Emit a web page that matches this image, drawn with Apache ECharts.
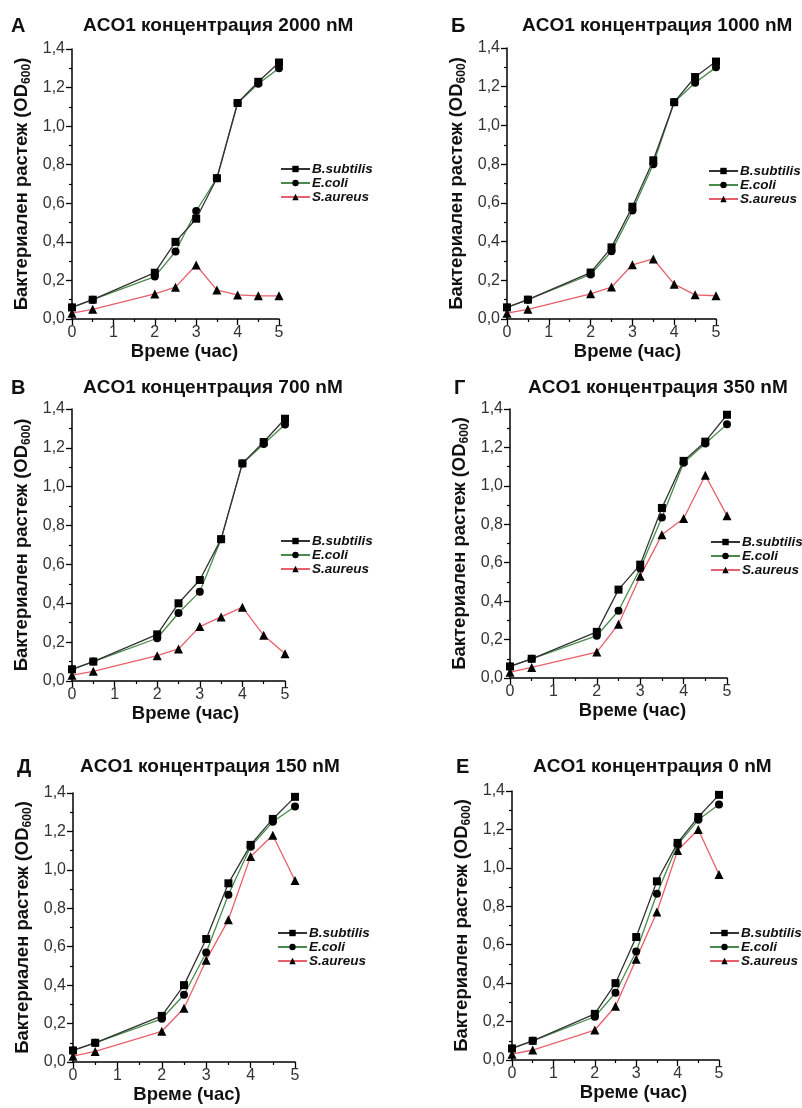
<!DOCTYPE html>
<html>
<head>
<meta charset="utf-8">
<script src="https://cdn.jsdelivr.net/npm/echarts@6/dist/echarts.min.js"></script>
<style>
  html, body { margin: 0; padding: 0; background: #fff; }
  #growth { width: 802px; height: 1108px; }
</style>
</head>
<body>
<div id="growth"></div>
<script>
// time points (hours)
const hours = [0, 0.5, 2, 2.5, 3, 3.5, 4, 4.5, 5];
const speciesNames = ['B.subtilis', 'E.coli', 'S.aureus'];
const panelLetters = ['А', 'Б', 'В', 'Г', 'Д', 'Е'];
const panelTitles = [
  'ACO1 концентрация 2000 nM',
  'ACO1 концентрация 1000 nM',
  'ACO1 концентрация 700 nM',
  'ACO1 концентрация 350 nM',
  'ACO1 концентрация 150 nM',
  'ACO1 концентрация 0 nM'
];

// OD600 per concentration
const bSub2000 = [0.06, 0.10, 0.24, 0.40, 0.52, 0.73, 1.12, 1.23, 1.33];
const eColi2000 = [0.06, 0.10, 0.22, 0.35, 0.56, 0.73, 1.12, 1.22, 1.30];
const sAur2000 = [0.03, 0.05, 0.13, 0.165, 0.28, 0.15, 0.125, 0.12, 0.12];

const bSub1000 = [0.06, 0.10, 0.24, 0.37, 0.58, 0.82, 1.12, 1.25, 1.33];
const eColi1000 = [0.06, 0.10, 0.23, 0.35, 0.56, 0.80, 1.12, 1.22, 1.30];
const sAur1000 = [0.03, 0.05, 0.13, 0.165, 0.28, 0.31, 0.18, 0.125, 0.12];

const bSub700 = [0.06, 0.10, 0.24, 0.40, 0.52, 0.73, 1.12, 1.23, 1.35];
const eColi700 = [0.06, 0.10, 0.22, 0.35, 0.46, 0.73, 1.12, 1.22, 1.32];
const sAur700 = [0.03, 0.05, 0.13, 0.165, 0.28, 0.33, 0.38, 0.235, 0.14];

const bSub350 = [0.06, 0.10, 0.24, 0.46, 0.59, 0.885, 1.13, 1.23, 1.37];
const eColi350 = [0.06, 0.10, 0.22, 0.35, 0.57, 0.835, 1.12, 1.22, 1.32];
const sAur350 = [0.03, 0.055, 0.135, 0.28, 0.53, 0.745, 0.83, 1.055, 0.845];

const bSub150 = [0.06, 0.10, 0.24, 0.40, 0.64, 0.93, 1.13, 1.265, 1.38];
const eColi150 = [0.06, 0.10, 0.225, 0.35, 0.57, 0.87, 1.12, 1.25, 1.33];
const sAur150 = [0.03, 0.055, 0.16, 0.28, 0.53, 0.74, 1.07, 1.18, 0.945];

const bSub0 = [0.06, 0.10, 0.24, 0.40, 0.64, 0.93, 1.13, 1.265, 1.38];
const eColi0 = [0.06, 0.10, 0.225, 0.35, 0.565, 0.865, 1.12, 1.25, 1.33];
const sAur0 = [0.03, 0.052, 0.156, 0.28, 0.525, 0.77, 1.09, 1.20, 0.965];

const panelData = [
  [bSub2000, eColi2000, sAur2000],
  [bSub1000, eColi1000, sAur1000],
  [bSub700, eColi700, sAur700],
  [bSub350, eColi350, sAur350],
  [bSub150, eColi150, sAur150],
  [bSub0, eColi0, sAur0]
];

// plot boxes in page pixels
const boxes = [
  {left: 72, top: 49, width: 207, height: 270, letterX: 11, titleX: 83, titleY: 16, legendX: 280, legendY: 162, xNameShift: 9},
  {left: 507, top: 48, width: 209, height: 271, letterX: 451, titleX: 522, titleY: 16, legendX: 708, legendY: 164, xNameShift: 16},
  {left: 72, top: 409, width: 213, height: 272, letterX: 11, titleX: 83, titleY: 378, legendX: 280, legendY: 534, xNameShift: 7},
  {left: 510, top: 409, width: 217, height: 269, letterX: 454, titleX: 528, titleY: 378, legendX: 710, legendY: 535, xNameShift: 14},
  {left: 73, top: 793, width: 222, height: 269, letterX: 17, titleX: 80, titleY: 757, legendX: 277, legendY: 926, xNameShift: 3},
  {left: 512, top: 791, width: 207, height: 269, letterX: 456, titleX: 533, titleY: 757, legendX: 709, legendY: 926, xNameShift: 18}
];

const lineColors = ['#333333', '#4a8a4a', '#e8606a'];
const symbols = ['rect', 'circle', 'triangle'];
const symbolSizes = [8, 8, 9];
const font = 'Liberation Sans, Arial, sans-serif';

let chart = echarts.init(document.getElementById('growth'));

let titles = [], grids = [], xAxes = [], yAxes = [], legends = [], series = [];
boxes.forEach(function (b, i) {
  titles.push({
    text: panelLetters[i], left: b.letterX, top: b.titleY, padding: 0,
    textStyle: {fontFamily: font, fontSize: 20, fontWeight: 'bold', color: '#111'}
  });
  titles.push({
    text: panelTitles[i], left: b.titleX, top: b.titleY, padding: 0,
    textStyle: {fontFamily: font, fontSize: 19, fontWeight: 'bold', color: '#111'}
  });
  grids.push({left: b.left, top: b.top, width: b.width, height: b.height});
  xAxes.push({
    type: 'value', gridIndex: i, min: 0, max: 5, interval: 1,
    name: 'Време (час)', nameLocation: 'middle', nameGap: 23,
    nameTextStyle: {fontFamily: font, fontSize: 18.5, fontWeight: 'bold', color: '#111', padding: [0, 0, 0, 2 * b.xNameShift]},
    axisLine: {lineStyle: {color: '#000', width: 1.5}},
    axisTick: {length: 6, lineStyle: {color: '#000', width: 1.3}},
    minorTick: {show: true, splitNumber: 2, length: 3, lineStyle: {color: '#000', width: 1.2}},
    splitLine: {show: false},
    axisLabel: {fontFamily: font, fontSize: 16, color: '#333', margin: 6}
  });
  yAxes.push({
    type: 'value', gridIndex: i, min: 0, max: 1.4, interval: 0.2,
    name: '{a|Бактериален растеж (OD}{b|600}{a|)}', nameLocation: 'middle', nameGap: 41,
    nameTextStyle: {
      rich: {
        a: {fontFamily: font, fontSize: 18.5, fontWeight: 'bold', color: '#111'},
        b: {fontFamily: font, fontSize: 12, fontWeight: 'bold', color: '#111', verticalAlign: 'bottom', padding: [0, 0, -2, 0]}
      }
    },
    axisLine: {lineStyle: {color: '#000', width: 1.5}},
    axisTick: {length: 6, lineStyle: {color: '#000', width: 1.3}},
    minorTick: {show: true, splitNumber: 2, length: 3, lineStyle: {color: '#000', width: 1.2}},
    splitLine: {show: false},
    axisLabel: {
      fontFamily: font, fontSize: 16, color: '#333', margin: 7,
      formatter: function (v) { return v.toFixed(1).replace('.', ','); }
    }
  });
  legends.push({
    data: speciesNames, orient: 'vertical', left: b.legendX, top: b.legendY,
    padding: 0, itemGap: 0, itemWidth: 29, itemHeight: 8, selectedMode: false,
    textStyle: {fontFamily: font, fontSize: 13.5, fontStyle: 'italic', fontWeight: 'bold', color: '#111', lineHeight: 14, padding: [0, 0, 0, -3]}
  });
  panelData[i].forEach(function (vals, s) {
    series.push({
      name: speciesNames[s], type: 'line', xAxisIndex: i, yAxisIndex: i,
      data: hours.map(function (h, k) { return [h, vals[k]]; }),
      symbol: symbols[s], symbolSize: symbolSizes[s], z: 3 - s,
      itemStyle: {color: '#000'},
      lineStyle: {color: lineColors[s], width: 1.3},
      emphasis: {disabled: true}
    });
  });
});

chart.setOption({
  backgroundColor: '#fff',
  animation: false,
  title: titles,
  grid: grids,
  xAxis: xAxes,
  yAxis: yAxes,
  legend: legends,
  series: series
});
</script>
</body>
</html>
